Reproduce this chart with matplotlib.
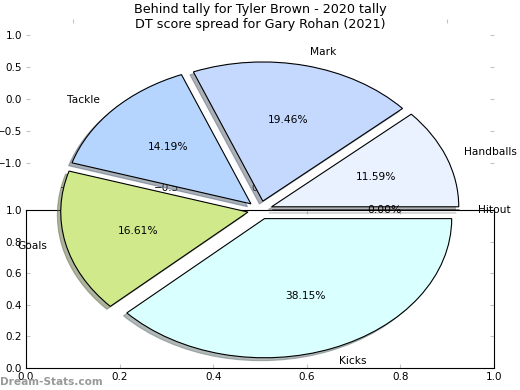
import matplotlib
matplotlib.use('Agg')
import matplotlib.pyplot as plt

# DT score share per stat for Gary Rohan (2021)
labels = ['Handballs', 'Mark', 'Tackle', 'Goals', 'Kicks', 'Hitout']
shares = [11.59, 19.46, 14.19, 16.61, 38.15, 0.00]
colors = ['#eaf2ff', '#c5d9ff', '#b5d5ff', '#d0ea8b', '#d9ffff', '#ffffff']
explode = [0.066] * len(labels)

ticks_b = [-1.0, -0.5, 0.0, 0.5, 1.0]
ticks_a = [0.0, 0.2, 0.4, 0.6, 0.8, 1.0]

tick_grey = '#c4c4c4'

fig = plt.figure(figsize=(5.2, 3.9), dpi=100)

# bottom empty axes (0..1)
axa = fig.add_axes([0.05, 0.0564, 0.9, 0.405])
axa.set_xlim(0, 1)
axa.set_ylim(0, 1)
axa.set_xticks(ticks_a)
axa.set_yticks(ticks_a)
axa.tick_params(direction='in', length=3, color=tick_grey, labelsize=7.5,
                top=True, right=True, pad=3)

# upper axes with only its ticks left
axb = fig.add_axes([0.05, 0.541, 0.9, 0.41])
axb.patch.set_visible(False)
for s in axb.spines.values():
    s.set_visible(False)
axb.set_xlim(-1.25, 1.25)
axb.set_ylim(-1.25, 1.25)
axb.set_xticks(ticks_b)
axb.set_yticks(ticks_b)
axb.tick_params(direction='in', length=3, color=tick_grey, labelsize=7.5,
                top=True, right=True, pad=3)
for t in axb.xaxis.get_major_ticks()[1:4]:
    t.tick2line.set_visible(False)

# the pie, stretched over most of the figure
axc = fig.add_axes([0.05, 0.0154, 0.9, 0.892])
axc.pie(shares, labels=labels, colors=colors, explode=explode,
        autopct='%1.2f%%', startangle=0,
        shadow={'ox': -0.013, 'oy': -0.015, 'shade': 0.55},
        wedgeprops={'edgecolor': 'black', 'linewidth': 0.8},
        textprops={'fontsize': 7.7})
axc.set_aspect('auto')
axc.set_xlim(-1.25, 1.25)
axc.set_ylim(-1.25, 1.25)
axc.axis('off')
axc.set_title('Behind tally for Tyler Brown - 2020 tally\nDT score spread for Gary Rohan (2021)',
              fontsize=9.2, linespacing=1.2)

fig.text(0.0, 0.008, 'Dream-Stats.com', color='#999999', fontsize=7.6,
         fontweight='bold', ha='left', va='bottom')

fig.savefig('out.png', dpi=100)
